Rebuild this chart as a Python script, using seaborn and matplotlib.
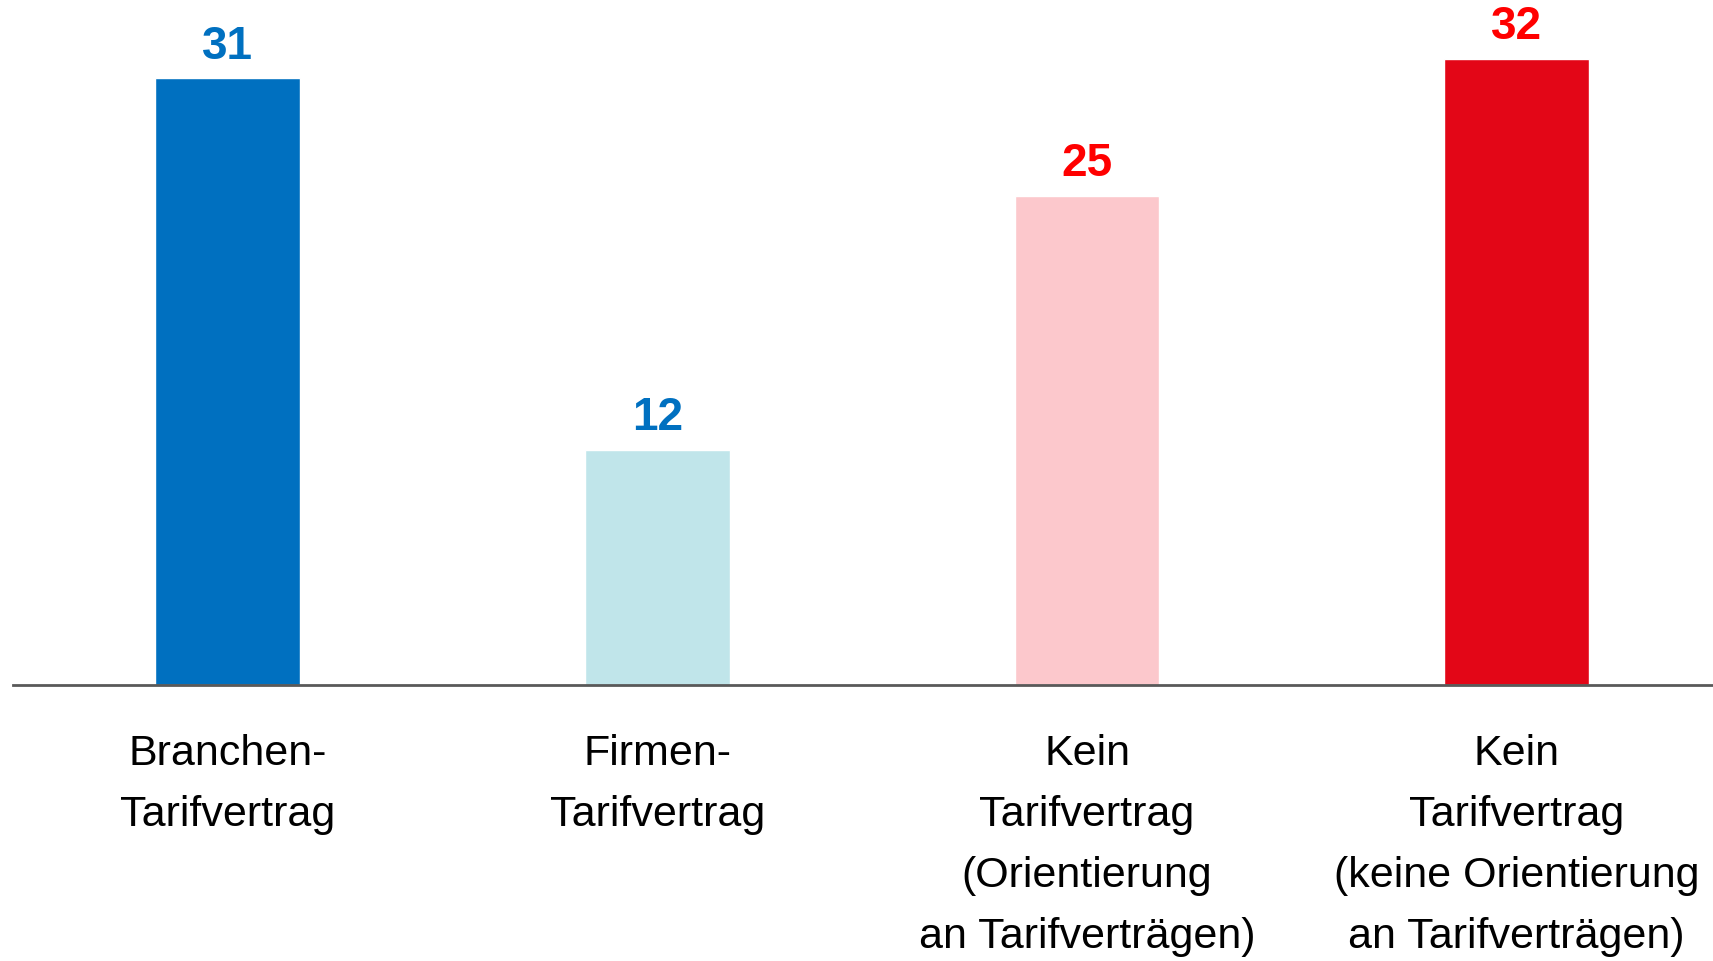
import pandas as pd
import matplotlib
matplotlib.use("Agg")
import matplotlib.pyplot as plt
import seaborn as sns

# data
categories = ["Branchen-\nTarifvertrag",
              "Firmen-\nTarifvertrag",
              "Kein\nTarifvertrag\n(Orientierung\nan Tarifverträgen)",
              "Kein\nTarifvertrag\n(keine Orientierung\nan Tarifverträgen)"]
values = [31, 12, 25, 32]

bar_colors = ["#0070C0", "#C0E5EA", "#FCC8CC", "#E30617"]
label_colors = ["#0070C0", "#0070C0", "#FF0000", "#FF0000"]

df = pd.DataFrame({"kat": categories, "wert": values})

sns.set_theme(style="white")
plt.rcParams['font.family'] = ['Liberation Sans Narrow', 'Liberation Sans', 'DejaVu Sans']

fig = plt.figure(figsize=(17.13, 9.61), dpi=100)
ax = fig.add_axes([13 / 1713, 1 - 685 / 961, 1 - 13 / 1713, 685 / 961])

sns.barplot(data=df, x="kat", y="wert", hue="kat", palette=bar_colors,
            width=0.337, legend=False, ax=ax, saturation=1)

# value labels on top of each bar
for cont, col in zip(ax.containers, label_colors):
    ax.bar_label(cont, padding=7, color=col, fontsize=33, fontweight="bold")

ax.set_xlim(-0.5, 3.457)
ax.set_ylim(0, 35.0)
ax.set_xlabel("")
ax.set_ylabel("")
ax.set_yticks([])
ax.tick_params(axis="x", length=0, pad=35, labelsize=31, labelcolor="black")
for lbl in ax.get_xticklabels():
    lbl.set_linespacing(1.68)

for s in ["top", "right", "left"]:
    ax.spines[s].set_visible(False)
ax.spines["bottom"].set_color("#595959")
ax.spines["bottom"].set_linewidth(2)

fig.savefig("out.png", dpi=100)
